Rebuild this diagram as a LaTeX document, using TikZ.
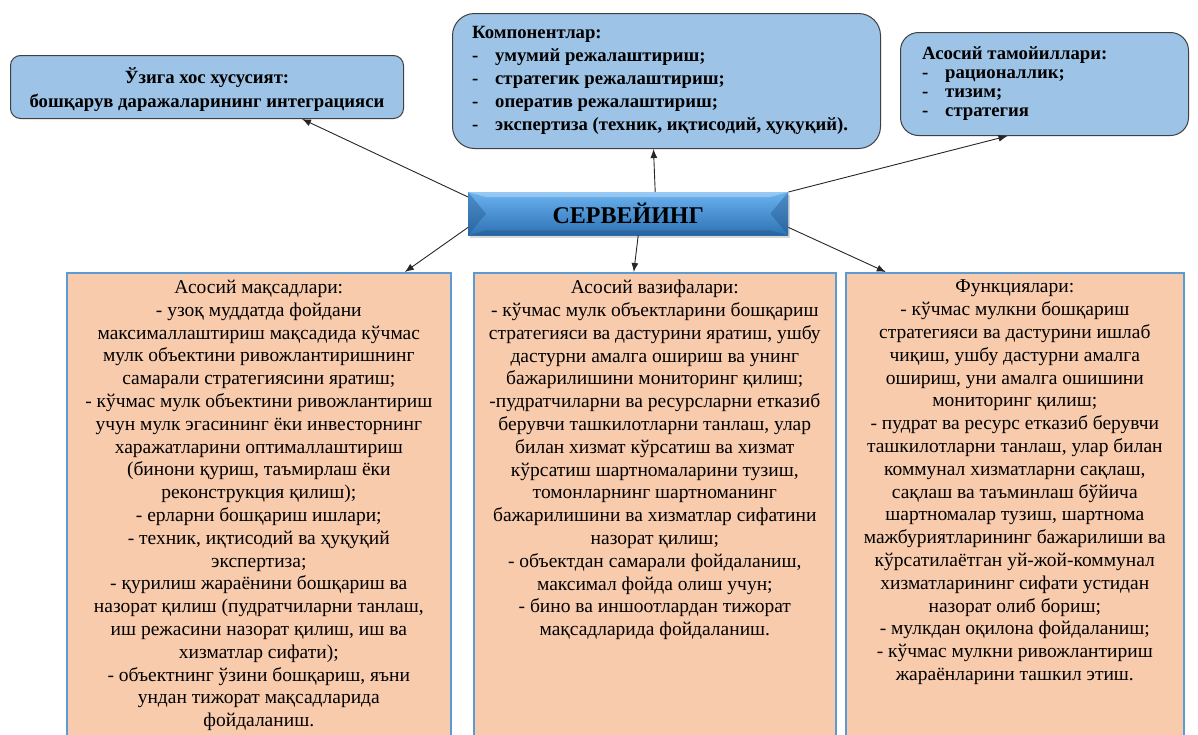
\documentclass[tikz,border=0pt]{standalone}
\usepackage{fontspec}
\setmainfont{Liberation Serif}
\usetikzlibrary{positioning,shadows,arrows.meta}
\definecolor{topblue}{HTML}{9DC3E6}
\definecolor{peach}{HTML}{F8CBAD}
\definecolor{edgeblue}{HTML}{5B9BD5}
\definecolor{barhi}{HTML}{6AB2F0}
\definecolor{barlo}{HTML}{2E72B4}
\newcommand{\itm}[1]{\makebox[23pt][l]{-}#1}
\begin{document}
\begin{tikzpicture}[x=1pt,y=-1pt,
  topbox/.style={draw=black!75,fill=topblue,line width=1pt,anchor=north west,inner sep=0pt},
  goalbox/.style={draw=edgeblue,fill=peach,line width=1.6pt,anchor=north west,minimum height=480pt},
  goaltext/.style={anchor=north,align=center,inner sep=0pt,font=\fontsize{19.5}{22.8}\selectfont},
  toptext/.style={anchor=north west,align=left,inner sep=0pt,font=\bfseries\fontsize{18.7}{#1}\selectfont},
  link/.style={-{Latex[length=9pt,width=7pt]},line width=0.9pt,black!85}]
\useasboundingbox (0,0) rectangle (1198,734);
\clip (0,0) rectangle (1198,734);
% upper boxes
\node[topbox,rounded corners=10pt,minimum width=393pt,minimum height=63pt] (kF) at (10,55) {};
\node[align=center,inner sep=0pt,font=\bfseries\fontsize{18.7}{24}\selectfont] (kFt) at ([yshift=-3pt]kF.center)
  {Ўзига хос хусусият:\\бошқарув даражаларининг интеграцияси};
\node[topbox,rounded corners=22pt,minimum width=428pt,minimum height=135pt] (kK) at (452,13) {};
\node[toptext=23] (kKt) at (472,26) {Компонентлар:\\\itm{умумий режалаштириш;}\\\itm{стратегик режалаштириш;}\\
  \itm{оператив режалаштириш;}\\\itm{экспертиза (техник, иқтисодий, ҳуқуқий).}};
\node[topbox,rounded corners=18pt,minimum width=288pt,minimum height=103pt] (kP) at (900,32) {};
\node[toptext=19] (kPt) at (922,46) {Асосий тамойиллари:\\\itm{рационаллик;}\\\itm{тизим;}\\\itm{стратегия}};
% centre bar
\node[anchor=north west,minimum width=320pt,minimum height=43pt,inner sep=0pt,
  top color=barhi,bottom color=barlo,drop shadow={opacity=0.3,shadow xshift=2pt,shadow yshift=-3pt}] (kC) at (468,192) {};
\fill[white,opacity=0.3] (kC.north west)--++(18,5)--++(284,0)--(kC.north east)--cycle;
\fill[barlo!60!black,opacity=0.3] (kC.south west)--++(18,-5)--++(284,0)--(kC.south east)--cycle;
\fill[barlo!75!black,opacity=0.4] (kC.north west)--([xshift=18pt]kC.west)--(kC.south west)--cycle;
\fill[barlo!75!black,opacity=0.4] (kC.north east)--([xshift=-18pt]kC.east)--(kC.south east)--cycle;
\node[font=\bfseries\fontsize{24}{28}\selectfont] (kCt) at (kC.center) {СЕРВЕЙИНГ};
% lower boxes
\node[goalbox,minimum width=384pt] (kM) at (66,272) {};
\node[goalbox,minimum width=362pt] (kV) at (473,272) {};
\node[goalbox,minimum width=338pt] (kN) at (845,272) {};
\node[goaltext] (kMt) at ([yshift=-8pt]kM.north) {Асосий мақсадлари:\\- узоқ муддатда фойдани\\максималлаштириш мақсадида кўчмас\\
  мулк объектини ривожлантиришнинг\\самарали стратегиясини яратиш;\\- кўчмас мулк объектини ривожлантириш\\
  учун мулк эгасининг ёки инвесторнинг\\харажатларини оптималлаштириш\\(бинони қуриш, таъмирлаш ёки\\
  реконструкция қилиш);\\- ерларни бошқариш ишлари;\\- техник, иқтисодий ва ҳуқуқий\\экспертиза;\\
  - қурилиш жараёнини бошқариш ва\\назорат қилиш (пудратчиларни танлаш,\\иш режасини назорат қилиш, иш ва\\
  хизматлар сифати);\\- объектнинг ўзини бошқариш, яъни\\ундан тижорат мақсадларида\\фойдаланиш.};
\node[goaltext] (kVt) at ([yshift=-8pt]kV.north) {Асосий вазифалари:\\- кўчмас мулк объектларини бошқариш\\
  стратегияси ва дастурини яратиш, ушбу\\дастурни амалга ошириш ва унинг\\бажарилишини мониторинг қилиш;\\
  -пудратчиларни ва ресурсларни етказиб\\берувчи ташкилотларни танлаш, улар\\билан хизмат кўрсатиш ва хизмат\\
  кўрсатиш шартномаларини тузиш,\\томонларнинг шартноманинг\\бажарилишини ва хизматлар сифатини\\
  назорат қилиш;\\- объектдан самарали фойдаланиш,\\максимал фойда олиш учун;\\- бино ва иншоотлардан тижорат\\
  мақсадларида фойдаланиш.};
\node[goaltext] (kNt) at ([yshift=-8pt]kN.north) {Функциялари:\\- кўчмас мулкни бошқариш\\
  стратегияси ва дастурини ишлаб\\чиқиш, ушбу дастурни амалга\\ошириш, уни амалга ошишини\\
  мониторинг қилиш;\\- пудрат ва ресурс етказиб берувчи\\ташкилотларни танлаш, улар билан\\
  коммунал хизматларни сақлаш,\\сақлаш ва таъминлаш бўйича\\шартномалар тузиш, шартнома\\
  мажбуриятларининг бажарилиши ва\\кўрсатилаётган уй-жой-коммунал\\хизматларининг сифати устидан\\
  назорат олиб бориш;\\- мулкдан оқилона фойдаланиш;\\- кўчмас мулкни ривожлантириш\\жараёнларини ташкил этиш.};
% arrows
\draw[link] ([yshift=-5pt]kC.north west)--([xshift=95pt]kF.south);
\draw[link] ([xshift=27pt]kC.north)--([xshift=-13pt]kK.south);
\draw[link] (kC.north east)--([xshift=-37pt]kP.south);
\draw[link] ([yshift=8pt]kC.south west)--([xshift=146pt]kM.north);
\draw[link] ([xshift=10pt]kC.south)--([xshift=-21pt]kV.north);
\draw[link] ([yshift=8pt]kC.south east)--([xshift=-129pt]kN.north);
\end{tikzpicture}
\end{document}
